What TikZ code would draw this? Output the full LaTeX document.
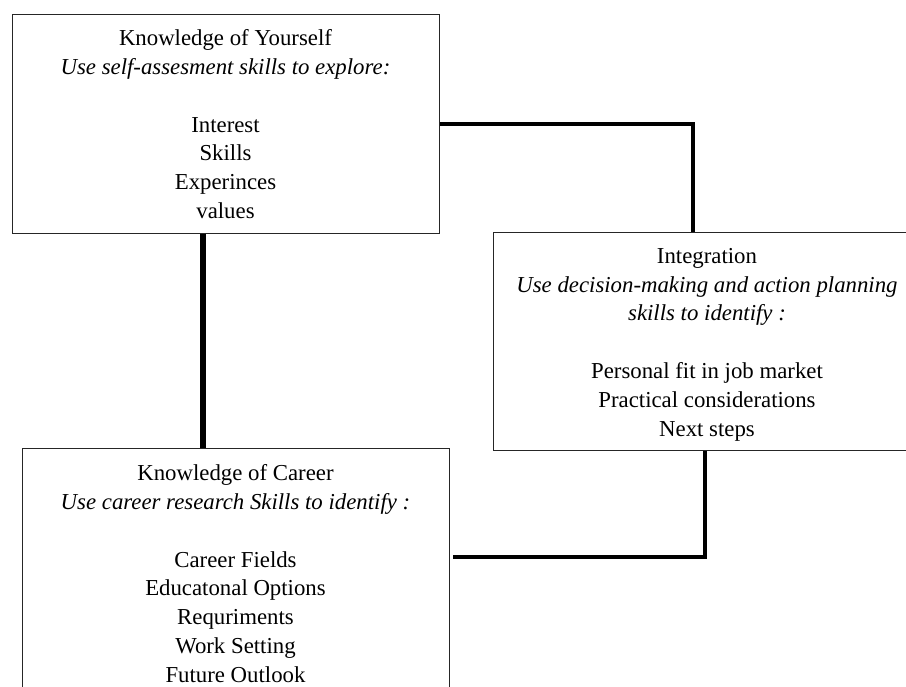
\documentclass[tikz,border=0pt]{standalone}
\usepackage{fontspec}
\setmainfont{Liberation Serif}
\begin{document}
\begin{tikzpicture}[x=1pt,y=-1pt,
  panel/.style={draw=black!85, line width=1.3pt, fill=white, inner sep=0pt, anchor=north west},
  label/.style={align=center, inner sep=0pt, anchor=north,
    font=\fontsize{22.8}{28.8}\selectfont},
  link/.style={line width=4pt, line cap=butt, line join=miter},
  trunk/.style={line width=6pt, line cap=butt}]
\useasboundingbox (0,0) rectangle (906,687);
\clip (0,0) rectangle (906,687);

% the three panels
\node[panel, minimum width=427pt, minimum height=218.6pt] (self) at (12,14) {};
\node[panel, minimum width=428pt, minimum height=218pt] (integ) at (493,232) {};
\node[panel, minimum width=427pt, minimum height=280pt] (career) at (22,448) {};

% connectors
\draw[link] (self.east) -| ([xshift=200pt]integ.north west);
\draw[trunk] ([xshift=191pt]self.south west) -- ([xshift=191pt]self.south west |- career.north);
\draw[link] ([xshift=212pt]integ.south west) |- ([yshift=-109pt,xshift=3pt]career.north east);

% panel texts
\node[label] (selftext) at (225.5,29.5) {Knowledge of Yourself\\
  \textit{Use self-assesment skills to explore:}\\[28.8pt]
  Interest\\ Skills\\ Experinces\\ values};
\node[label] (integtext) at (707,248) {Integration\\
  \textit{Use decision-making and action planning}\\
  \textit{skills to identify :}\\[28.8pt]
  Personal fit in job market\\ Practical considerations\\ Next steps};
\node[label] (careertext) at (235.5,464.4) {Knowledge of Career\\
  \textit{Use career research Skills to identify :}\\[28.8pt]
  Career Fields\\ Educatonal Options\\ Requriments\\ Work Setting\\ Future Outlook};
\end{tikzpicture}
\end{document}
